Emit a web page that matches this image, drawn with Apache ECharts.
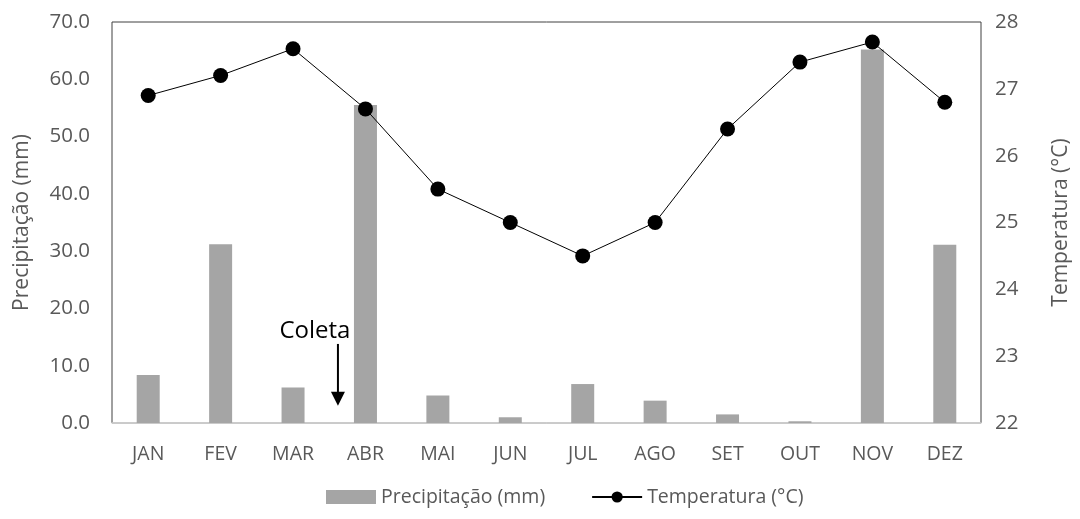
<!DOCTYPE html>
<html>
<head>
<meta charset="utf-8">
<script src="https://cdn.jsdelivr.net/npm/echarts@6/dist/echarts.min.js"></script>
<style>
  html, body { margin: 0; padding: 0; background: #fff; }
  #chart { width: 1080px; height: 519px; }
</style>
</head>
<body>
<div id="chart"></div>
<script>
const months = ['JAN', 'FEV', 'MAR', 'ABR', 'MAI', 'JUN', 'JUL', 'AGO', 'SET', 'OUT', 'NOV', 'DEZ'];
const precipitacao = [8.4, 31.2, 6.2, 55.5, 4.8, 1.0, 6.8, 3.9, 1.5, 0.3, 65.2, 31.1];
const temperatura = [26.9, 27.2, 27.6, 26.7, 25.5, 25.0, 24.5, 25.0, 26.4, 27.4, 27.7, 26.8];

// "Coleta" arrow: category position (between MAR and ABR) and precipitation values
const coletaPos = 2.62;
const coletaArrowTop = 13.8;
const coletaArrowBottom = 3.0;
const coletaLabelY = 16.0;

const FONT = '"Open Sans", sans-serif';
const GRAY_TEXT = '#595959';

const chart = echarts.init(document.getElementById('chart'));

const option = {
  backgroundColor: '#fff',
  animation: false,
  textStyle: { fontFamily: FONT },
  grid: {
    left: 112,
    right: 85,
    top: 22,
    bottom: 96,
    show: true,
    borderColor: '#404040',
    borderWidth: 1,
  },
  legend: {
    bottom: 7,
    left: 321,
    itemWidth: 50,
    itemHeight: 14,
    itemGap: 46,
    textStyle: { color: GRAY_TEXT, fontSize: 19.5, fontFamily: FONT },
    data: [
      { name: 'Precipitação (mm)', icon: 'rect' },
      { name: 'Temperatura (°C)' },
    ],
  },
  xAxis: {
    type: 'category',
    data: months,
    axisLine: { lineStyle: { color: '#d9d9d9', width: 1.5 } },
    axisTick: { show: false },
    axisLabel: { color: GRAY_TEXT, fontSize: 19.5, margin: 21, fontFamily: FONT },
  },
  yAxis: [
    {
      type: 'value',
      min: 0,
      max: 70,
      interval: 10,
      name: 'Precipitação (mm)',
      nameLocation: 'middle',
      nameGap: 79,
      nameTextStyle: { color: GRAY_TEXT, fontSize: 21, fontFamily: FONT },
      axisLine: { show: false },
      axisTick: { show: false },
      splitLine: { show: false },
      axisLabel: {
        color: GRAY_TEXT,
        fontSize: 20.5,
        margin: 22,
        fontFamily: FONT,
        formatter: (v) => v.toFixed(1),
      },
    },
    {
      type: 'value',
      min: 22,
      max: 28,
      interval: 1,
      name: 'Temperatura (°C)',
      nameLocation: 'middle',
      nameGap: 70,
      nameRotate: 90,
      nameTextStyle: { color: GRAY_TEXT, fontSize: 21, fontFamily: FONT },
      axisLine: { show: false },
      axisTick: { show: false },
      splitLine: { show: false },
      axisLabel: { color: GRAY_TEXT, fontSize: 20.5, margin: 14, fontFamily: FONT },
    },
  ],
  series: [
    {
      name: 'Precipitação (mm)',
      type: 'bar',
      data: precipitacao,
      barWidth: 23,
      itemStyle: { color: '#a5a5a5' },
      z: 2,
    },
    {
      name: 'Temperatura (°C)',
      type: 'line',
      yAxisIndex: 1,
      data: temperatura,
      symbol: 'circle',
      symbolSize: 15,
      lineStyle: { color: '#000', width: 1 },
      itemStyle: { color: '#000' },
      z: 3,
    },
  ],
};

chart.setOption(option);

// place the "Coleta" annotation through the axes' own scales
function placeColeta() {
  const i0 = Math.floor(coletaPos);
  const frac = coletaPos - i0;
  const xa = chart.convertToPixel({ xAxisIndex: 0 }, months[i0]);
  const xb = chart.convertToPixel({ xAxisIndex: 0 }, months[i0 + 1]);
  const x = xa + (xb - xa) * frac;
  const yTop = chart.convertToPixel({ yAxisIndex: 0 }, coletaArrowTop);
  const yBot = chart.convertToPixel({ yAxisIndex: 0 }, coletaArrowBottom);
  const yLabel = chart.convertToPixel({ yAxisIndex: 0 }, coletaLabelY);
  chart.setOption({
    graphic: [
      {
        type: 'line',
        shape: { x1: x, y1: yTop, x2: x, y2: yBot - 12 },
        style: { stroke: '#000', lineWidth: 2 },
        z: 10,
      },
      {
        type: 'polygon',
        shape: { points: [[x - 7, yBot - 14], [x + 7, yBot - 14], [x, yBot]] },
        style: { fill: '#000' },
        z: 10,
      },
      {
        type: 'text',
        x: x - 23,
        y: yLabel,
        style: {
          text: 'Coleta',
          fill: '#000',
          font: '24px ' + FONT,
          align: 'center',
          verticalAlign: 'middle',
        },
        z: 10,
      },
    ],
  });
}
placeColeta();
</script>
</body>
</html>
